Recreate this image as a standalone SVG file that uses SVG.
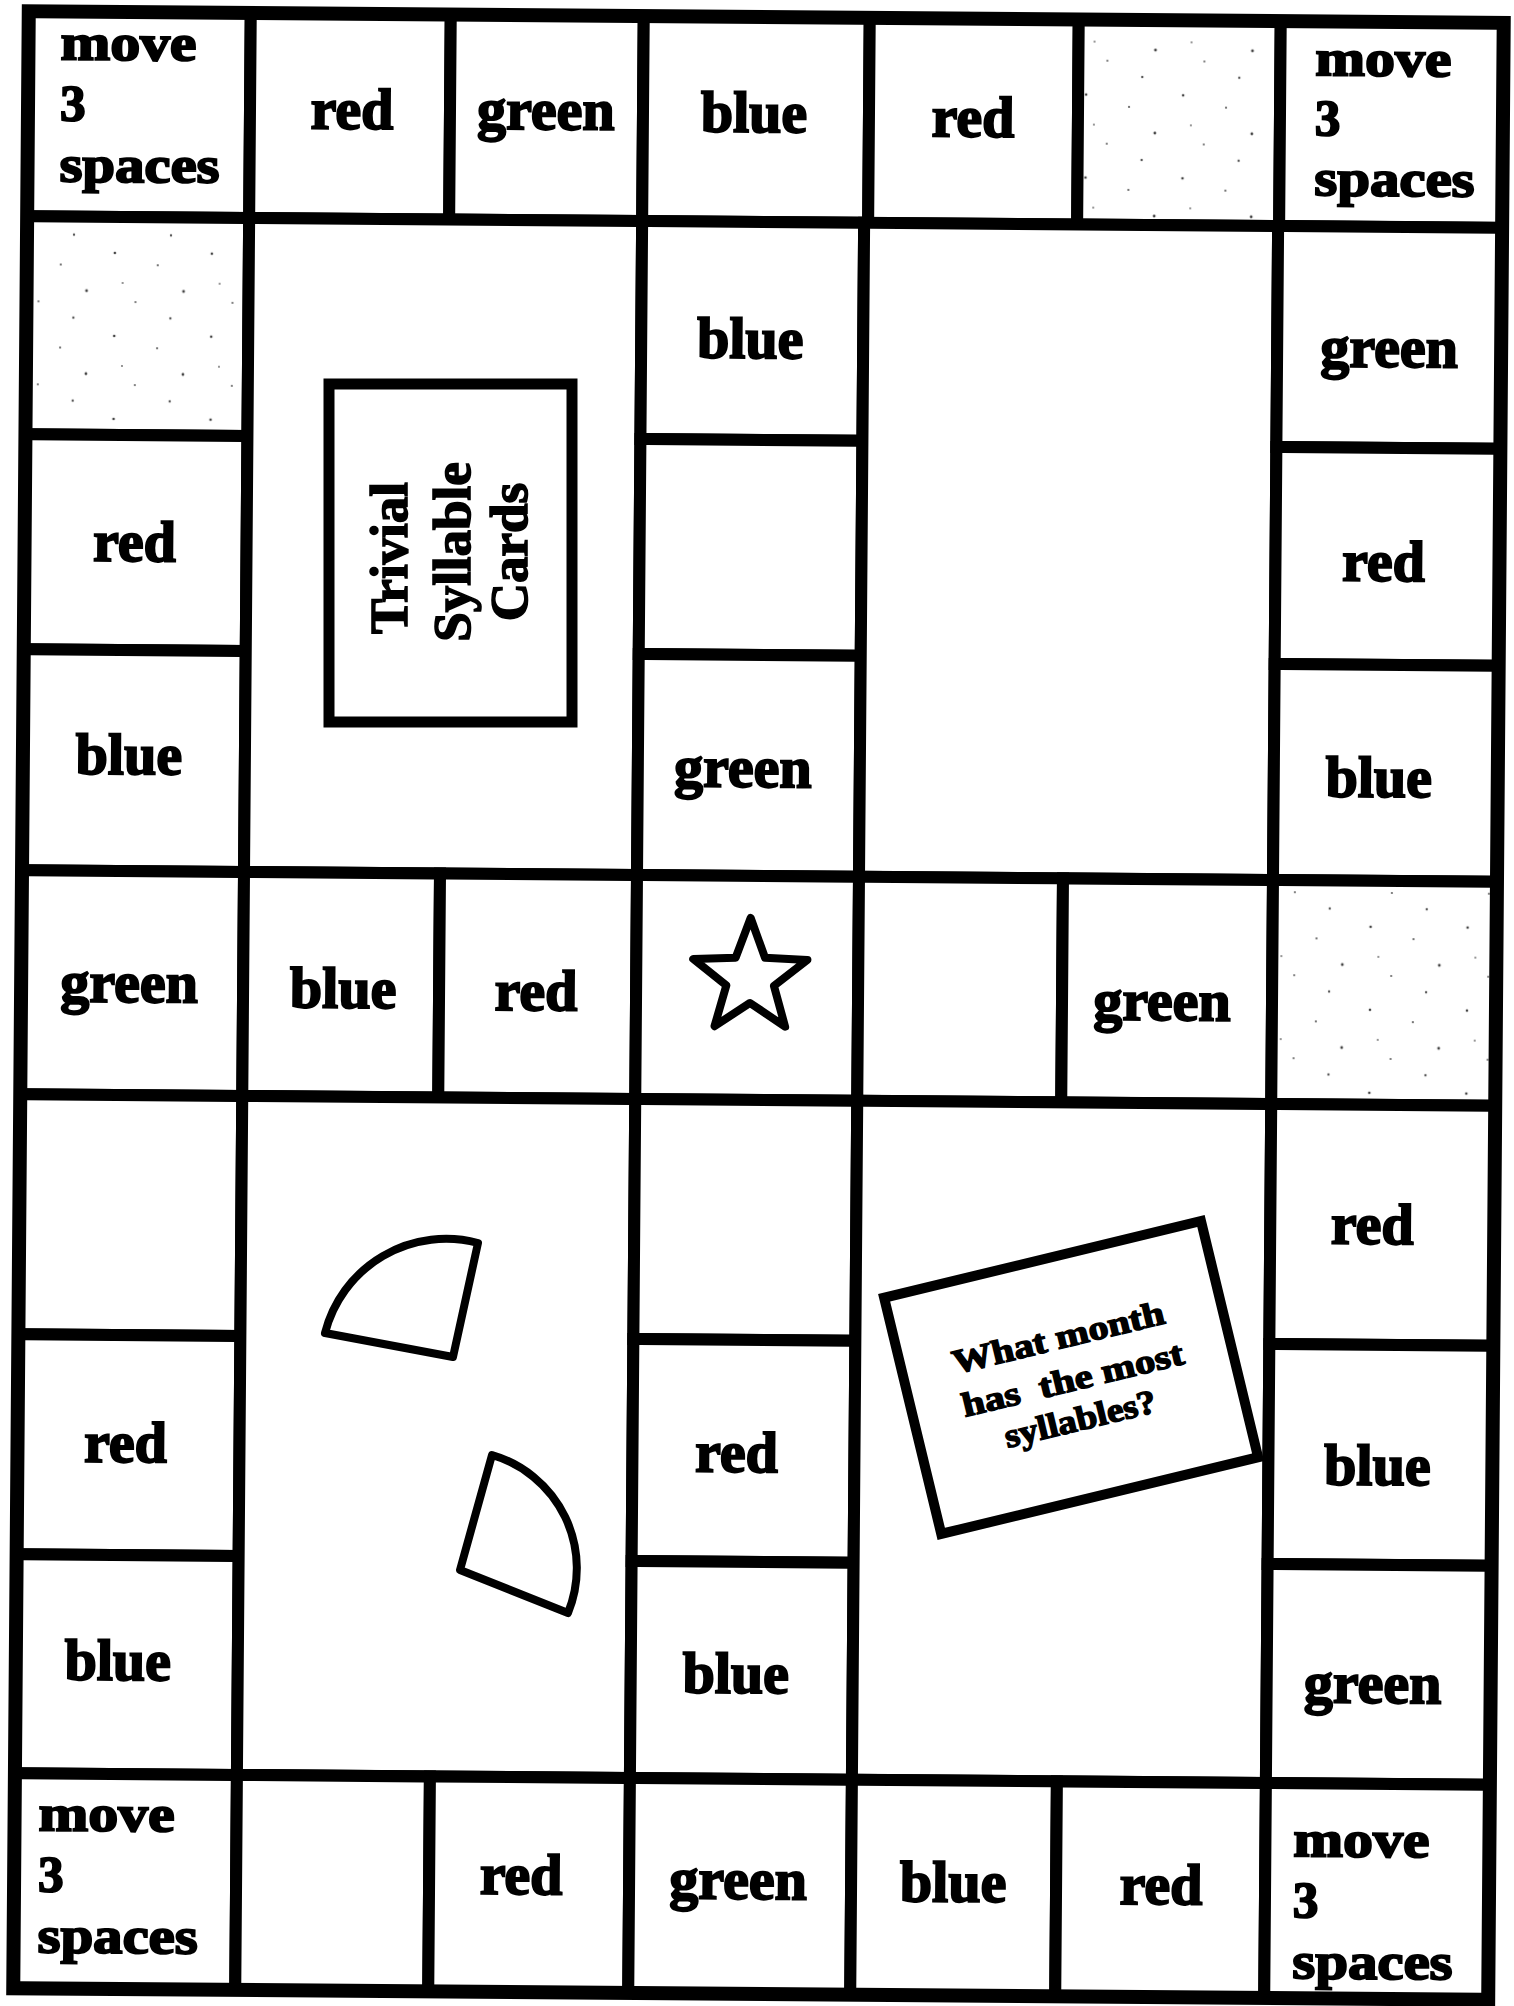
<svg xmlns="http://www.w3.org/2000/svg" width="1514" height="2006" viewBox="0 0 1514 2006">
<defs>
<pattern id="speck" width="97" height="83" patternUnits="userSpaceOnUse">
<rect width="97" height="83" fill="#fff"/>
<circle cx="12" cy="9" r="1.3" fill="#444"/>
<circle cx="55" cy="21" r="1.1" fill="#555"/>
<circle cx="81" cy="47" r="1.4" fill="#444"/>
<circle cx="33" cy="58" r="1.1" fill="#666"/>
<circle cx="68" cy="74" r="1.2" fill="#555"/>
<circle cx="20" cy="39" r="0.9" fill="#666"/>
</pattern>
<style>
.c{fill:#fff;stroke:#000;stroke-width:12}
.d{fill:url(#speck);stroke:#000;stroke-width:12}
.o{fill:none;stroke:#000;stroke-width:14}
.t{font-family:"Liberation Serif","DejaVu Serif",serif;font-weight:bold;font-size:58px;text-anchor:middle;fill:#000;stroke:#000;stroke-width:2}
.m{font-family:"Liberation Serif","DejaVu Serif",serif;font-weight:bold;font-size:51px;fill:#000;stroke:#000;stroke-width:2}
.s{fill:#fff;stroke:#000;stroke-width:8;stroke-linejoin:round}
.v{font-family:"Liberation Serif","DejaVu Serif",serif;font-weight:bold;font-size:53px;text-anchor:middle;fill:#000;stroke:#000;stroke-width:1.6}
.q{font-family:"Liberation Serif","DejaVu Serif",serif;font-weight:bold;font-size:34px;text-anchor:middle;fill:#000;stroke:#000;stroke-width:1.4}
</style>
</defs>
<rect width="1514" height="2006" fill="#fff"/>
<g id="board" transform="rotate(0.45 757 1003)">
<g id="t1"><rect class="c" x="21" y="17" width="222" height="205"/>
<text class="m" x="53" y="65" textLength="136" lengthAdjust="spacingAndGlyphs">move</text>
<text class="m" x="53" y="126">3</text>
<text class="m" x="53" y="187" textLength="160" lengthAdjust="spacingAndGlyphs">spaces</text></g>
<g id="t2"><rect class="c" x="243" y="17" width="200" height="205"/><text class="t" x="345" y="132">red</text></g>
<g id="t3"><rect class="c" x="443" y="17" width="193" height="205"/><text class="t" x="539" y="131">green</text></g>
<g id="t4"><rect class="c" x="636" y="17" width="226" height="205"/><text class="t" x="747" y="132">blue</text></g>
<g id="t5"><rect class="c" x="862" y="17" width="209" height="205"/><text class="t" x="966" y="135">red</text></g>
<g id="t6"><rect class="d" x="1071" y="17" width="202" height="205"/></g>
<g id="t7"><rect class="c" x="1273" y="17" width="223" height="205"/>
<text class="m" x="1308" y="71" textLength="136" lengthAdjust="spacingAndGlyphs">move</text>
<text class="m" x="1308" y="131">3</text>
<text class="m" x="1308" y="191" textLength="160" lengthAdjust="spacingAndGlyphs">spaces</text></g>
<g id="a1"><rect class="d" x="21" y="222" width="222" height="218"/></g>
<g id="a2"><rect class="c" x="21" y="440" width="222" height="215"/><text class="t" x="131" y="566">red</text></g>
<g id="a3"><rect class="c" x="21" y="655" width="222" height="221"/><text class="t" x="127" y="779">blue</text></g>
<g id="areaCL"><rect class="c" x="243" y="222" width="393" height="654"/></g>
<g id="a4"><rect class="c" x="636" y="222" width="222" height="218"/><text class="t" x="745" y="358">blue</text></g>
<g id="a5"><rect class="c" x="636" y="440" width="222" height="215"/></g>
<g id="a6"><rect class="c" x="636" y="655" width="222" height="221"/><text class="t" x="741" y="787">green</text></g>
<g id="areaCR"><rect class="c" x="858" y="222" width="414" height="654"/></g>
<g id="a7"><rect class="c" x="1272" y="222" width="224" height="221"/><text class="t" x="1384" y="362">green</text></g>
<g id="a8"><rect class="c" x="1272" y="443" width="224" height="217"/><text class="t" x="1380" y="576">red</text></g>
<g id="a9"><rect class="c" x="1272" y="660" width="224" height="216"/><text class="t" x="1377" y="792">blue</text></g>
<g id="m1"><rect class="c" x="21" y="876" width="222" height="224"/><text class="t" x="129" y="1007">green</text></g>
<g id="m2"><rect class="c" x="243" y="876" width="196" height="224"/><text class="t" x="343" y="1011">blue</text></g>
<g id="m3"><rect class="c" x="439" y="876" width="197" height="224"/><text class="t" x="536" y="1012">red</text></g>
<g id="m4"><rect class="c" x="636" y="876" width="222" height="224"/><polygon class="s" points="750,918 764.7,957.8 807.1,959.5 773.8,985.7 785.3,1026.5 750,1003 714.7,1026.5 726.2,985.7 692.9,959.5 735.3,957.8"/></g>
<g id="m5"><rect class="c" x="858" y="876" width="204" height="224"/></g>
<g id="m6"><rect class="c" x="1062" y="876" width="210" height="224"/><text class="t" x="1162" y="1017">green</text></g>
<g id="m7"><rect class="d" x="1272" y="876" width="224" height="224"/></g>
<g id="b1"><rect class="c" x="21" y="1100" width="222" height="240"/></g>
<g id="b2"><rect class="c" x="21" y="1340" width="222" height="220"/><text class="t" x="129" y="1467">red</text></g>
<g id="b3"><rect class="c" x="21" y="1560" width="222" height="219"/><text class="t" x="123" y="1685">blue</text></g>
<g id="areaBL"><rect class="c" x="243" y="1100" width="393" height="679"/></g>
<g id="b4"><rect class="c" x="636" y="1100" width="222" height="240"/></g>
<g id="b5"><rect class="c" x="636" y="1340" width="222" height="222"/><text class="t" x="740" y="1472">red</text></g>
<g id="b6"><rect class="c" x="636" y="1562" width="222" height="217"/><text class="t" x="741" y="1693">blue</text></g>
<g id="areaBR"><rect class="c" x="858" y="1100" width="414" height="679"/></g>
<g id="b7"><rect class="c" x="1272" y="1100" width="224" height="240"/><text class="t" x="1374" y="1239">red</text></g>
<g id="b8"><rect class="c" x="1272" y="1340" width="224" height="220"/><text class="t" x="1381" y="1480">blue</text></g>
<g id="b9"><rect class="c" x="1272" y="1560" width="224" height="219"/><text class="t" x="1378" y="1698">green</text></g>
<g id="r1"><rect class="c" x="21" y="1779" width="222" height="215"/>
<text class="m" x="45" y="1836" textLength="136" lengthAdjust="spacingAndGlyphs">move</text>
<text class="m" x="45" y="1897">3</text>
<text class="m" x="45" y="1958" textLength="160" lengthAdjust="spacingAndGlyphs">spaces</text></g>
<g id="r2"><rect class="c" x="243" y="1779" width="193" height="215"/></g>
<g id="r3"><rect class="c" x="436" y="1779" width="200" height="215"/><text class="t" x="528" y="1896">red</text></g>
<g id="r4"><rect class="c" x="636" y="1779" width="222" height="215"/><text class="t" x="745" y="1899">green</text></g>
<g id="r5"><rect class="c" x="858" y="1779" width="205" height="215"/><text class="t" x="960" y="1900">blue</text></g>
<g id="r6"><rect class="c" x="1063" y="1779" width="209" height="215"/><text class="t" x="1168" y="1901">red</text></g>
<g id="r7"><rect class="c" x="1272" y="1779" width="224" height="215"/>
<text class="m" x="1300" y="1852" textLength="136" lengthAdjust="spacingAndGlyphs">move</text>
<text class="m" x="1300" y="1913">3</text>
<text class="m" x="1300" y="1974" textLength="160" lengthAdjust="spacingAndGlyphs">spaces</text></g>
<rect class="o" x="21" y="17" width="1475" height="1977"/>
</g>
<g id="cardStack">
<rect x="329" y="384" width="243" height="338" fill="#fff" stroke="#000" stroke-width="11"/>
<text class="v" transform="translate(407,558) rotate(-90)">Trivial</text>
<text class="v" transform="translate(470,552) rotate(-90)">Syllable</text>
<text class="v" transform="translate(527,552) rotate(-90)">Cards</text>
</g>
<g id="wedges">
<path class="s" d="M453 1357 L478 1243 A125 125 0 0 0 325 1333 Z"/>
<path class="s" d="M460 1570 L492 1455 A118 118 0 0 1 568 1613 Z"/>
</g>
<g id="questionCard" transform="rotate(-13.6 1071 1377)">
<rect x="908" y="1256" width="326" height="243" fill="#fff" stroke="#000" stroke-width="10"/>
<text class="q" x="1068" y="1347" textLength="217" lengthAdjust="spacingAndGlyphs">What month</text>
<text class="q" x="1072" y="1391" textLength="227" lengthAdjust="spacingAndGlyphs" xml:space="preserve">has  the most</text>
<text class="q" x="1070" y="1431" textLength="155" lengthAdjust="spacingAndGlyphs">syllables?</text>
</g>
</svg>
